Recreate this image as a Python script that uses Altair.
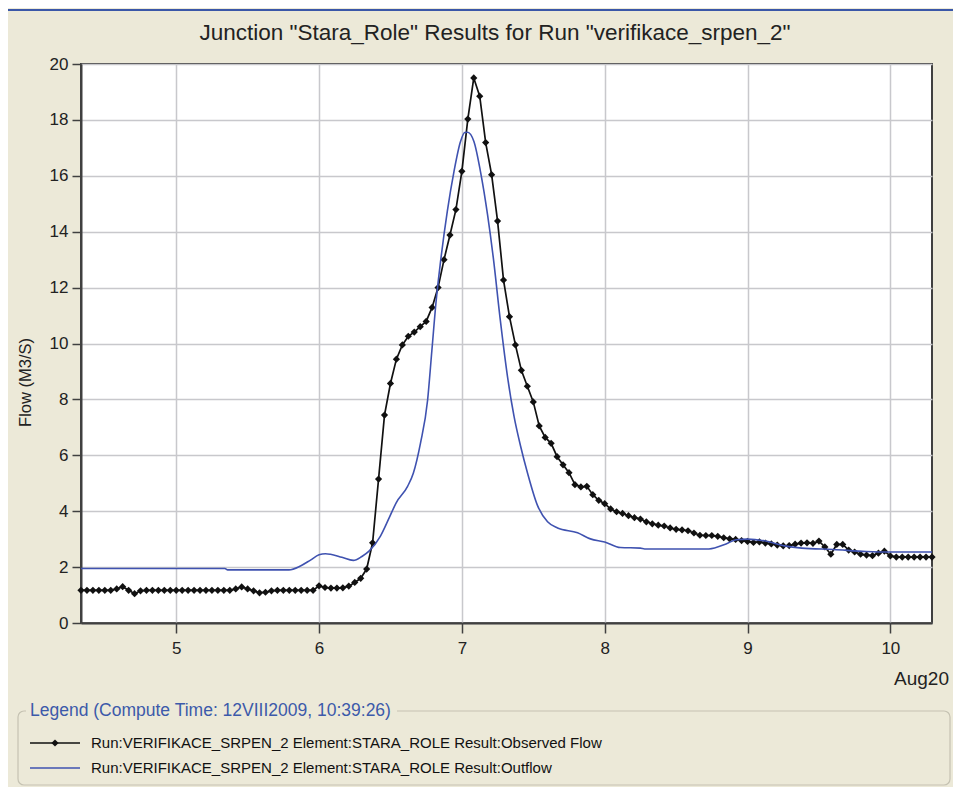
import altair as alt
import pandas as pd

# ---------------- data ----------------
# observed flow, hourly, hours counted from Aug 4 00:00 (first = Aug 4 08:00)
obs_start_hour = 8
obs_aug4 = [1.17, 1.17, 1.17, 1.17, 1.17, 1.17, 1.22, 1.30, 1.17, 1.05, 1.15, 1.17,
            1.17, 1.17, 1.17, 1.17]
obs_aug5 = [1.17, 1.17, 1.17, 1.17, 1.17, 1.17, 1.17, 1.17, 1.17, 1.17, 1.22, 1.29,
            1.22, 1.15, 1.08, 1.10, 1.15, 1.17, 1.17, 1.17, 1.17, 1.17, 1.17, 1.17]
obs_aug6 = [1.33, 1.27, 1.25, 1.25, 1.26, 1.32, 1.45, 1.60, 1.93, 2.87, 5.15, 7.44,
            8.57, 9.44, 9.95, 10.26, 10.41, 10.60, 10.79, 11.29, 12.00, 13.00, 13.88, 14.79]
obs_aug7 = [16.16, 18.03, 19.50, 18.85, 17.19, 16.04, 14.38, 12.27, 10.96, 9.95, 9.04, 8.47,
            7.91, 7.05, 6.64, 6.43, 5.95, 5.66, 5.38, 4.95, 4.87, 4.89, 4.59, 4.39]
obs_aug8 = [4.27, 4.08, 3.98, 3.92, 3.84, 3.77, 3.72, 3.62, 3.55, 3.50, 3.47, 3.40,
            3.35, 3.33, 3.30, 3.22, 3.14, 3.13, 3.13, 3.10, 3.05, 3.01, 2.99, 2.95]
obs_aug9 = [2.92, 2.88, 2.90, 2.86, 2.83, 2.79, 2.76, 2.77, 2.82, 2.86, 2.87, 2.85,
            2.93, 2.72, 2.46, 2.81, 2.81, 2.61, 2.54, 2.46, 2.43, 2.41, 2.50, 2.57]
obs_aug10 = [2.40, 2.36, 2.36, 2.36, 2.36, 2.36, 2.36, 2.36]

# computed outflow (day of August, flow)
out_day = [4.333, 5.34, 5.36, 5.79, 5.87, 5.94, 6.0, 6.045, 6.08, 6.16, 6.24, 6.30,
           6.35, 6.43, 6.49, 6.54, 6.62, 6.66, 6.71, 6.76, 6.79, 6.82, 6.85, 6.898,
           6.945, 6.99, 7.02, 7.04, 7.085, 7.13, 7.18, 7.22, 7.27, 7.32, 7.365, 7.41,
           7.46, 7.53, 7.60, 7.67, 7.81, 7.90, 8.0, 8.11, 8.25, 8.28, 8.73, 8.85,
           8.92, 9.0, 9.12, 9.26, 9.38, 9.6, 9.83, 10.0, 10.2917]
out_flow = [1.95, 1.95, 1.90, 1.90, 2.04, 2.25, 2.44, 2.48, 2.46, 2.35, 2.24, 2.38,
            2.57, 3.11, 3.75, 4.30, 4.89, 5.36, 6.43, 7.97, 9.75, 11.53, 12.90, 14.73,
            16.16, 17.22, 17.55, 17.56, 17.22, 16.16, 14.60, 13.07, 10.80, 8.80, 7.40, 6.35,
            5.36, 4.20, 3.62, 3.40, 3.23, 3.01, 2.90, 2.70, 2.68, 2.65, 2.65, 2.83,
            2.98, 3.00, 2.94, 2.76, 2.68, 2.63, 2.56, 2.54, 2.54]

x_ticks = [5, 6, 7, 8, 9, 10]
y_ticks = [0, 2, 4, 6, 8, 10, 12, 14, 16, 18, 20]

title_text = 'Junction "Stara_Role" Results for Run "verifikace_srpen_2"'
legend_title = "Legend (Compute Time: 12VIII2009, 10:39:26)"
legend_obs = "Run:VERIFIKACE_SRPEN_2 Element:STARA_ROLE Result:Observed Flow"
legend_out = "Run:VERIFIKACE_SRPEN_2 Element:STARA_ROLE Result:Outflow"
date_label = "Aug20"

# ---------------- frames ----------------
obs_flow = obs_aug4 + obs_aug5 + obs_aug6 + obs_aug7 + obs_aug8 + obs_aug9 + obs_aug10
obs_df = pd.DataFrame({
    "day": [4 + (obs_start_hour + i) / 24 for i in range(len(obs_flow))],
    "flow": obs_flow,
})
out_df = pd.DataFrame({"day": out_day, "flow": out_flow})
one = pd.DataFrame({"k": [0]})

FONT = "Liberation Sans"
BG = "#ECE9D8"
W, H = 851, 559

xs = alt.X("day:Q", scale=alt.Scale(domain=[4.3333, 10.2917], nice=False, zero=False),
           axis=alt.Axis(values=x_ticks, format="d", title=None, labelPadding=7,
                         tickSize=10))
ys = alt.Y("flow:Q", scale=alt.Scale(domain=[0, 20], nice=False),
           axis=alt.Axis(values=y_ticks, title="Flow (M3/S)", tickSize=9,
                         labelPadding=4, titleX=-56, titleY=318, titleAngle=270,
                         titleBaseline="middle", titleAlign="center"))

obs_line = alt.Chart(obs_df).mark_line(color="#111111", strokeWidth=1.7).encode(x=xs, y=ys)
obs_pts = alt.Chart(obs_df).mark_point(shape="diamond", filled=True, size=52,
                                       color="#111111", opacity=1).encode(x=xs, y=ys)
out_line = alt.Chart(out_df).mark_line(color="#3F52B0", strokeWidth=1.6,
                                       interpolate="monotone").encode(x=xs, y=ys)

# decorations (pixel positions relative to plot origin)
top_line = alt.Chart(one).mark_rule(color="#3A57A8", strokeWidth=2).encode(
    x=alt.value(-73), x2=alt.value(872), y=alt.value(-54))
title_txt = alt.Chart(one).mark_text(align="center", baseline="middle", font=FONT,
                                     fontSize=22.5, color="#222222").encode(
    x=alt.value(414), y=alt.value(-31), text=alt.value(title_text))
date_txt = alt.Chart(one).mark_text(align="right", baseline="middle", font=FONT,
                                    fontSize=19, color="#222222").encode(
    x=alt.value(868), y=alt.value(615), text=alt.value(date_label))
box = alt.Chart(one).mark_rect(fill=None, stroke="#C5C2B2", strokeWidth=1.2,
                               cornerRadius=6).encode(
    x=alt.value(-63), x2=alt.value(869), y=alt.value(647), y2=alt.value(721))
lt_bg = alt.Chart(one).mark_rect(fill=BG).encode(
    x=alt.value(-55), x2=alt.value(316), y=alt.value(637), y2=alt.value(657))
lt_txt = alt.Chart(one).mark_text(align="left", baseline="middle", font=FONT,
                                  fontSize=17.5, color="#3C5AAA").encode(
    x=alt.value(-51), y=alt.value(647), text=alt.value(legend_title))
l1_rule = alt.Chart(one).mark_rule(color="#111111", strokeWidth=1.7).encode(
    x=alt.value(-51), x2=alt.value(-1), y=alt.value(679))
l1_pt = alt.Chart(one).mark_point(shape="diamond", filled=True, size=52, color="#111111",
                                  opacity=1).encode(x=alt.value(-26), y=alt.value(679))
l1_txt = alt.Chart(one).mark_text(align="left", baseline="middle", font=FONT,
                                  fontSize=15, color="#111111").encode(
    x=alt.value(10), y=alt.value(679), text=alt.value(legend_obs))
l2_rule = alt.Chart(one).mark_rule(color="#3F52B0", strokeWidth=1.6).encode(
    x=alt.value(-51), x2=alt.value(-1), y=alt.value(704))
l2_txt = alt.Chart(one).mark_text(align="left", baseline="middle", font=FONT,
                                  fontSize=15, color="#111111").encode(
    x=alt.value(10), y=alt.value(704), text=alt.value(legend_out))

chart = alt.layer(
    obs_line, obs_pts, out_line,
    top_line, title_txt, date_txt, box, lt_bg, lt_txt, l1_rule, l1_pt, l1_txt,
    l2_rule, l2_txt,
).properties(
    width=W, height=H,
    autosize=alt.AutoSizeParams(type="none"),
    padding={"left": 73, "top": 56, "right": 21, "bottom": 164},
    background=BG,
).configure_view(
    fill="white", stroke="#404040", strokeWidth=2,
).configure_axis(
    labelFont=FONT, labelFontSize=17, labelColor="#222222",
    titleFont=FONT, titleFontSize=16.5, titleFontWeight="normal", titleColor="#222222",
    domainColor="#404040", domainWidth=2, tickColor="#404040", tickWidth=1.5,
    gridColor="#C8C8CC", gridWidth=1.5,
)

chart.save("out.html", embed_options={"renderer": "svg", "actions": False})
